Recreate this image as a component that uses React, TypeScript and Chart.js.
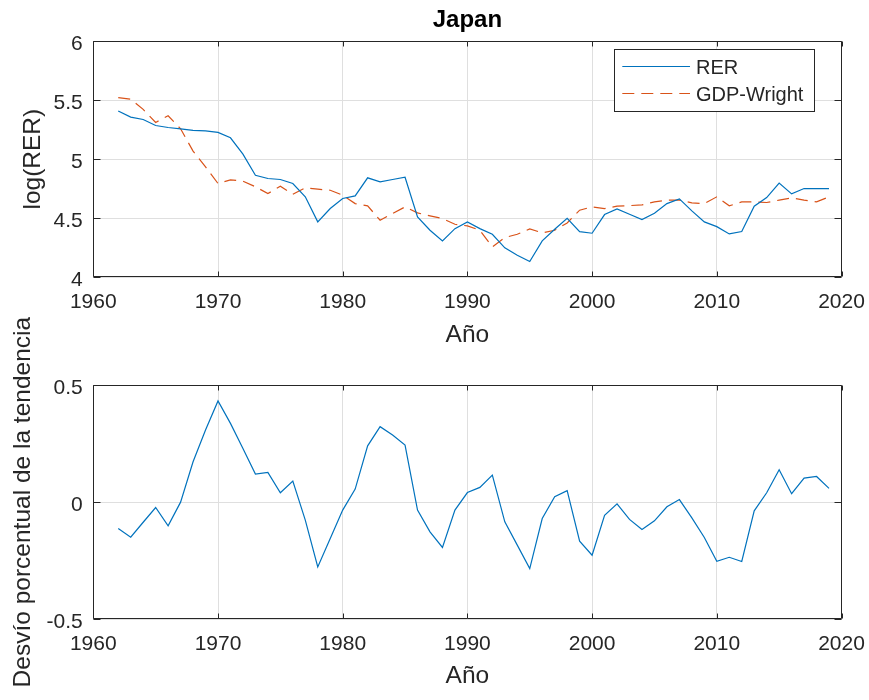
import React, { useEffect, useRef } from 'react';
import { Chart, registerables } from 'chart.js';

Chart.register(...registerables);

// ---------- data ----------
const YEARS = [
  1962, 1963, 1964, 1965, 1966, 1967, 1968, 1969, 1970, 1971,
  1972, 1973, 1974, 1975, 1976, 1977, 1978, 1979, 1980, 1981,
  1982, 1983, 1984, 1985, 1986, 1987, 1988, 1989, 1990, 1991,
  1992, 1993, 1994, 1995, 1996, 1997, 1998, 1999, 2000, 2001,
  2002, 2003, 2004, 2005, 2006, 2007, 2008, 2009, 2010, 2011,
  2012, 2013, 2014, 2015, 2016, 2017, 2018, 2019,
];

const RER = [
  5.407, 5.356, 5.336, 5.285, 5.268, 5.257, 5.243, 5.240, 5.226, 5.181,
  5.042, 4.864, 4.836, 4.828, 4.794, 4.681, 4.469, 4.582, 4.667, 4.689,
  4.842, 4.808, 4.828, 4.847, 4.511, 4.398, 4.308, 4.412, 4.469, 4.412,
  4.364, 4.249, 4.186, 4.133, 4.308, 4.407, 4.500, 4.387, 4.373, 4.531,
  4.579, 4.534, 4.489, 4.542, 4.624, 4.664, 4.562, 4.469, 4.429, 4.367,
  4.387, 4.602, 4.675, 4.797, 4.706, 4.751, 4.751, 4.751,
];

const GDP_WRIGHT = [
  5.520, 5.508, 5.421, 5.311, 5.367, 5.257, 5.068, 4.935, 4.794, 4.825,
  4.814, 4.766, 4.709, 4.771, 4.703, 4.757, 4.746, 4.737, 4.695, 4.624,
  4.605, 4.483, 4.540, 4.596, 4.545, 4.520, 4.497, 4.449, 4.435, 4.398,
  4.257, 4.336, 4.364, 4.410, 4.376, 4.398, 4.460, 4.568, 4.596, 4.582,
  4.602, 4.607, 4.613, 4.638, 4.653, 4.653, 4.630, 4.624, 4.681, 4.605,
  4.638, 4.638, 4.633, 4.653, 4.672, 4.653, 4.638, 4.681,
];

const DEVIATION = [
  -0.113, -0.150, -0.086, -0.023, -0.101, 0.000, 0.173, 0.309, 0.433, 0.337,
  0.230, 0.120, 0.127, 0.040, 0.090, -0.077, -0.277, -0.156, -0.034, 0.056,
  0.241, 0.323, 0.287, 0.244, -0.034, -0.127, -0.194, -0.034, 0.041, 0.063,
  0.116, -0.084, -0.184, -0.284, -0.070, 0.023, 0.049, -0.167, -0.227, -0.056,
  -0.007, -0.074, -0.117, -0.080, -0.020, 0.011, -0.067, -0.151, -0.253, -0.236,
  -0.254, -0.037, 0.040, 0.139, 0.036, 0.103, 0.110, 0.059,
];

const TITLE = 'Japan';
const X_LABEL = 'Año';
const Y_LABEL_TOP = 'log(RER)';
const Y_LABEL_BOTTOM = 'Desvío porcentual de la tendencia';
const SERIES_LABELS = ['RER', 'GDP-Wright'];

// ---------- styles ----------
const FONT = "'Liberation Sans', Arial, Helvetica, sans-serif";
const TEXT = '#262626';
const BLUE = '#0072BD';
const ORANGE = '#D95319';
const GRID = '#dfdfdf';

const toPts = (vals: number[]) => vals.map((v, i) => ({ x: YEARS[i], y: v }));

const boxPlugin = {
  id: 'matlabBox',
  afterDatasetsDraw(chart: any) {
    const { ctx, chartArea: a, scales } = chart;
    const L = Math.round(a.left) + 0.5;
    const R = Math.round(a.right) - 0.5;
    const T = Math.round(a.top) + 0.5;
    const B = Math.round(a.bottom) - 0.5;
    ctx.save();
    ctx.strokeStyle = TEXT;
    ctx.lineWidth = 1;
    ctx.beginPath();
    ctx.rect(L, T, R - L, B - T);
    for (const t of scales.x.ticks) {
      const px = Math.round(scales.x.getPixelForValue(t.value)) + 0.5;
      ctx.moveTo(px, B);
      ctx.lineTo(px, B - 5);
      ctx.moveTo(px, T);
      ctx.lineTo(px, T + 5);
    }
    for (const t of scales.y.ticks) {
      const py = Math.round(scales.y.getPixelForValue(t.value)) + 0.5;
      ctx.moveTo(L, py);
      ctx.lineTo(L + 7, py);
      ctx.moveTo(R, py);
      ctx.lineTo(R - 7, py);
    }
    ctx.stroke();
    ctx.restore();
  },
};

const legendPlugin = {
  id: 'boxLegend',
  afterDraw(chart: any) {
    const { ctx, chartArea: a } = chart;
    const right = a.right - 27.5;
    const top = a.top + 8.3;
    const w = 199.7;
    const h = 62.4;
    const left = right - w;
    ctx.save();
    ctx.fillStyle = '#ffffff';
    ctx.fillRect(left, top, w, h);
    ctx.strokeStyle = TEXT;
    ctx.lineWidth = 1;
    ctx.strokeRect(Math.round(left) + 0.5, Math.round(top) + 0.5, Math.round(w), Math.round(h));
    const rows = [top + 16.7, top + 44];
    chart.data.datasets.forEach((ds: any, i: number) => {
      const y = Math.round(rows[i]) + 0.5;
      ctx.beginPath();
      ctx.strokeStyle = ds.borderColor;
      ctx.lineWidth = ds.borderWidth;
      ctx.setLineDash(ds.borderDash || []);
      ctx.moveTo(left + 8, y);
      ctx.lineTo(left + 75.7, y);
      ctx.stroke();
      ctx.setLineDash([]);
      ctx.fillStyle = TEXT;
      ctx.font = `20px ${FONT}`;
      ctx.textAlign = 'left';
      ctx.textBaseline = 'middle';
      ctx.fillText(ds.label, left + 81.7, rows[i] + 2);
    });
    ctx.restore();
  },
};

function xScale(height: number, titlePadBottom: number) {
  return {
    type: 'linear',
    min: 1960,
    max: 2020,
    afterFit(scale: any) {
      scale.height = height;
      scale.paddingLeft = 0;
      scale.paddingRight = 0;
      scale.paddingTop = 0;
      scale.paddingBottom = 0;
    },
    ticks: {
      stepSize: 10,
      autoSkip: false,
      maxRotation: 0,
      padding: 12.6,
      color: TEXT,
      font: { family: FONT, size: 21 },
      callback: (v: number) => String(v),
    },
    grid: { color: GRID, lineWidth: 1, drawTicks: false },
    border: { display: false },
    title: {
      display: true,
      text: X_LABEL,
      color: TEXT,
      font: { family: FONT, size: 24.5 },
      padding: { top: 0, bottom: titlePadBottom },
    },
  };
}

function yScale(min: number, max: number, label: string, titlePadTop: number) {
  return {
    type: 'linear',
    min,
    max,
    afterFit(scale: any) {
      scale.width = 93.3;
      scale.paddingLeft = 0;
      scale.paddingRight = 0;
      scale.paddingTop = 0;
      scale.paddingBottom = 0;
    },
    ticks: {
      stepSize: 0.5,
      padding: 10.5,
      labelOffset: 3,
      color: TEXT,
      font: { family: FONT, size: 21 },
      callback: (v: number) => String(Math.round(v * 10) / 10),
    },
    grid: { color: GRID, lineWidth: 1, drawTicks: false },
    border: { display: false },
    title: {
      display: true,
      text: label,
      color: TEXT,
      font: { family: FONT, size: 24.5 },
      padding: { top: titlePadTop, bottom: 0 },
    },
  };
}

export default function App() {
  const topRef = useRef<HTMLCanvasElement>(null);
  const botRef = useRef<HTMLCanvasElement>(null);

  useEffect(() => {
    const top = new Chart(topRef.current as HTMLCanvasElement, {
      type: 'line',
      data: {
        datasets: [
          {
            label: SERIES_LABELS[0],
            data: toPts(RER),
            borderColor: BLUE,
            borderWidth: 1.2,
            pointRadius: 0,
            tension: 0,
            fill: false,
          },
          {
            label: SERIES_LABELS[1],
            data: toPts(GDP_WRIGHT),
            borderColor: ORANGE,
            borderWidth: 1.2,
            borderDash: [12, 7],
            pointRadius: 0,
            tension: 0,
            fill: false,
          },
        ],
      },
      options: {
        responsive: false,
        animation: false,
        parsing: false,
        normalized: true,
        layout: { padding: { left: 0, right: 27.5, top: 0, bottom: 0 } },
        plugins: {
          legend: { display: false },
          tooltip: { enabled: false },
          title: {
            display: true,
            text: TITLE,
            fullSize: false,
            color: '#000000',
            font: { family: FONT, size: 24, weight: 'bold' },
            padding: { top: 5.6, bottom: 6.6 },
          },
        },
        scales: {
          x: xScale(360 - 277.3, 10.3),
          y: yScale(4, 6, Y_LABEL_TOP, 18.8),
        },
      } as any,
      plugins: [boxPlugin, legendPlugin],
    });

    const bottom = new Chart(botRef.current as HTMLCanvasElement, {
      type: 'line',
      data: {
        datasets: [
          {
            label: 'Desvío',
            data: toPts(DEVIATION),
            borderColor: BLUE,
            borderWidth: 1.2,
            pointRadius: 0,
            tension: 0,
            fill: false,
          },
        ],
      },
      options: {
        responsive: false,
        animation: false,
        parsing: false,
        normalized: true,
        layout: { padding: { left: 0, right: 27.5, top: 85.3, bottom: 0 } },
        plugins: {
          legend: { display: false },
          tooltip: { enabled: false },
          title: { display: false },
        },
        scales: {
          x: xScale(400 - 319, 8.6),
          y: yScale(-0.5, 0.5, Y_LABEL_BOTTOM, 8.1),
        },
      } as any,
      plugins: [boxPlugin],
    });

    return () => {
      top.destroy();
      bottom.destroy();
    };
  }, []);

  return (
    <div
      style={{
        position: 'absolute',
        left: 0,
        top: 0,
        width: 869,
        height: 700,
        background: '#ffffff',
        overflow: 'hidden',
      }}
    >
      <canvas
        ref={topRef}
        width={869}
        height={360}
        style={{ position: 'absolute', left: 0, top: 0, width: 869, height: 360 }}
      />
      <canvas
        ref={botRef}
        width={869}
        height={400}
        style={{ position: 'absolute', left: 0, top: 300, width: 869, height: 400 }}
      />
    </div>
  );
}
